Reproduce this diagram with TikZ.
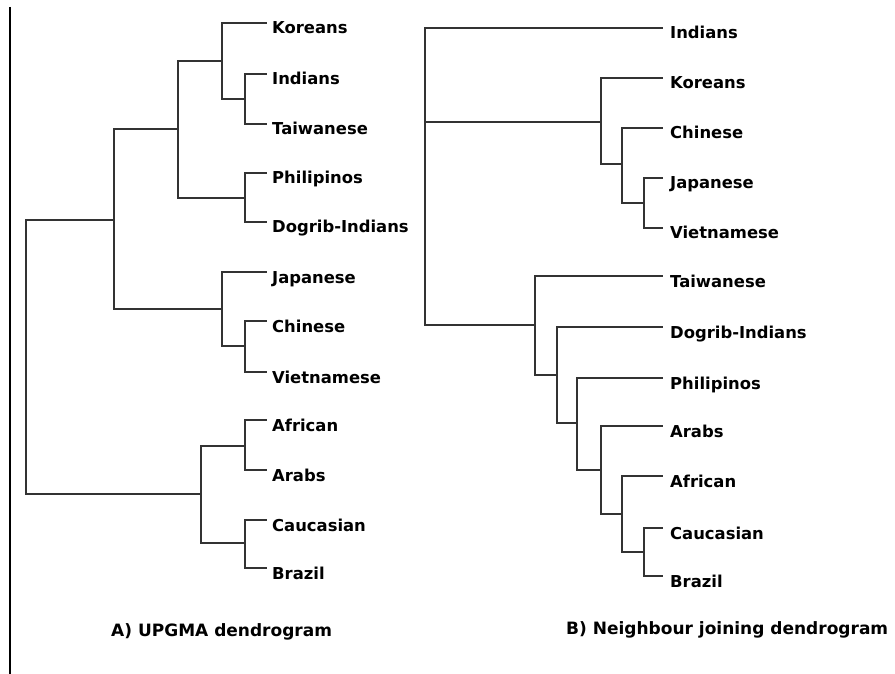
\documentclass[tikz,border=0pt]{standalone}
\usepackage{fontspec}
\setmainfont{DejaVu Sans}
\begin{document}
\begin{tikzpicture}[x=1pt,y=-1pt,
  br/.style={draw=black!80,line width=1.8pt},
  lab/.style={font=\bfseries\fontsize{16.4}{18}\selectfont,inner sep=0pt,anchor=base west,text=black},
  ttl/.style={font=\bfseries\fontsize{17}{19}\selectfont,inner sep=0pt,anchor=base west,text=black}]
\useasboundingbox[fill=white] (0,0) rectangle (895,674);
\draw[black,line width=1.8pt] (10,7) -- (10,674);
% ---------- A) UPGMA ----------
\foreach \n/\y/\t in {Kor/23/Koreans,Ind/74/Indians,Tai/124/Taiwanese,Phi/173/Philipinos,Dog/222/Dogrib-Indians,Jap/272/Japanese,Chi/321/Chinese,Vie/372/Vietnamese,Afr/420/African,Ara/470/Arabs,Cau/520/Caucasian,Bra/568/Brazil}{
  \coordinate (a\n) at (267,\y);
  \node[lab] (la\n) at (272,\y+11) {\t};
}
\coordinate (aIT) at (245,99);
\coordinate (aKIT) at (222,61);
\coordinate (aPD) at (245,198);
\coordinate (aK5) at (178,129);
\coordinate (aCV) at (245,346);
\coordinate (aJCV) at (222,309);
\coordinate (aAsia) at (114,220);
\coordinate (aAA) at (245,446);
\coordinate (aCB) at (245,543);
\coordinate (aW) at (201,494);
\coordinate (aRoot) at (26,357);
\draw[br] (aIT) |- (aInd) (aIT) |- (aTai);
\draw[br] (aKIT) |- (aKor) (aKIT) |- (aIT);
\draw[br] (aPD) |- (aPhi) (aPD) |- (aDog);
\draw[br] (aK5) |- (aKIT) (aK5) |- (aPD);
\draw[br] (aCV) |- (aChi) (aCV) |- (aVie);
\draw[br] (aJCV) |- (aJap) (aJCV) |- (aCV);
\draw[br] (aAsia) |- (aK5) (aAsia) |- (aJCV);
\draw[br] (aAA) |- (aAfr) (aAA) |- (aAra);
\draw[br] (aCB) |- (aCau) (aCB) |- (aBra);
\draw[br] (aW) |- (aAA) (aW) |- (aCB);
\draw[br] (aRoot) |- (aAsia) (aRoot) |- (aW);
\node[ttl] (tA) at (111,636) {A) UPGMA dendrogram};
% ---------- B) Neighbour joining ----------
\foreach \n/\y/\t in {Ind/28/Indians,Kor/78/Koreans,Chi/128/Chinese,Jap/178/Japanese,Vie/228/Vietnamese,Tai/276/Taiwanese,Dog/327/Dogrib-Indians,Phi/378/Philipinos,Ara/426/Arabs,Afr/476/African,Cau/528/Caucasian,Bra/576/Brazil}{
  \coordinate (b\n) at (663,\y);
  \node[lab] (lb\n) at (670,\y+11) {\t};
}
\coordinate (bJV) at (644,203);
\coordinate (bCJV) at (622,164);
\coordinate (bKCJV) at (601,122);
\coordinate (bCB) at (644,552);
\coordinate (bACB) at (622,514);
\coordinate (bAACB) at (601,470);
\coordinate (bPh) at (577,423);
\coordinate (bDP) at (557,375);
\coordinate (bTD) at (535,325);
\coordinate (bRoot) at (425,176);
\draw[br] (bJV) |- (bJap) (bJV) |- (bVie);
\draw[br] (bCJV) |- (bChi) (bCJV) |- (bJV);
\draw[br] (bKCJV) |- (bKor) (bKCJV) |- (bCJV);
\draw[br] (bCB) |- (bCau) (bCB) |- (bBra);
\draw[br] (bACB) |- (bAfr) (bACB) |- (bCB);
\draw[br] (bAACB) |- (bAra) (bAACB) |- (bACB);
\draw[br] (bPh) |- (bPhi) (bPh) |- (bAACB);
\draw[br] (bDP) |- (bDog) (bDP) |- (bPh);
\draw[br] (bTD) |- (bTai) (bTD) |- (bDP);
\draw[br] (bRoot) |- (bInd) (bRoot) |- (bKCJV) (bRoot) |- (bTD);
\node[ttl] (tB) at (566,634) {B) Neighbour joining dendrogram};
\end{tikzpicture}
\end{document}
